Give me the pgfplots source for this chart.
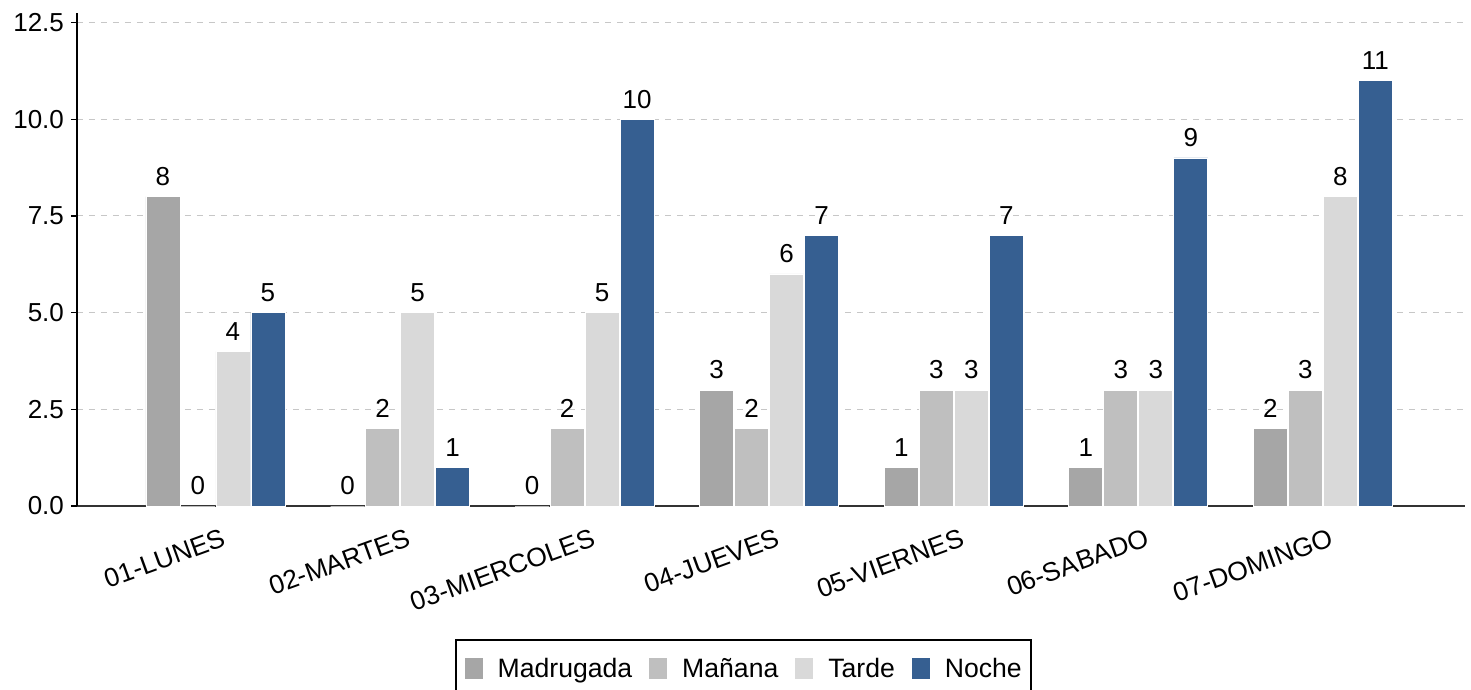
\documentclass[border=0pt]{standalone}
\usepackage{fontspec}
\setmainfont{Liberation Sans}
\usepackage{pgfplots}
\pgfplotsset{compat=1.18}
\definecolor{cMad}{HTML}{A6A6A6}
\definecolor{cMan}{HTML}{BFBFBF}
\definecolor{cTar}{HTML}{D9D9D9}
\definecolor{cNoc}{HTML}{365F91}
\begin{document}
\begin{tikzpicture}
\begin{axis}[
  name=ax,
  width=694pt, height=246.5pt, scale only axis,
  xmin=-0.75, xmax=6.77, ymin=0, ymax=12.75,
  axis lines*=left,
  x axis line style={draw=black!80, line width=0.9pt},
  y axis line style={draw=black, line width=0.9pt},
  ybar=0.5pt, bar width=17pt,
  xtick={0,1,2,3,4,5,6},
  xticklabels={01-LUNES,02-MARTES,03-MIERCOLES,04-JUEVES,05-VIERNES,06-SABADO,07-DOMINGO},
  x tick label style={rotate=20, anchor=north east, font=\fontsize{13.2}{15}\selectfont, xshift=3.5pt, yshift=-5pt},
  xtick style={draw=none},
  ytick={0,2.5,5,7.5,10,12.5},
  yticklabel style={/pgf/number format/fixed, /pgf/number format/fixed zerofill, /pgf/number format/precision=1, /pgf/number format/assume math mode=true, font=\fontsize{13}{15}\selectfont},
  ytick style={draw=black, line width=0.8pt},
  tick align=outside, major tick length=3pt,
  ymajorgrids, grid style={dashed, draw=black!22, line width=0.5pt},
  nodes near coords,
  nodes near coords style={font=\fontsize{13}{15}\selectfont, /pgf/number format/assume math mode=true, text=black, yshift=2pt},
  every axis plot/.append style={draw=white, line width=0.4pt},
  legend style={at={(0.480,-0.270)}, anchor=north, legend columns=4, draw=black, line width=1pt,
    font=\fontsize{13.3}{15}\selectfont, inner xsep=4.5pt, inner ysep=9pt,
    nodes={inner sep=0pt},
    /tikz/every odd column/.append style={column sep=7.5pt},
    /tikz/every even column/.append style={column sep=8.5pt}},
  legend image code/.code={\fill[#1, draw=none] (0pt,-5pt) rectangle (9pt,5.5pt);},
  clip=false,
]
\addplot[fill=cMad] coordinates {(0,8) (1,0) (2,0) (3,3) (4,1) (5,1) (6,2)};
\addplot[fill=cMan] coordinates {(0,0) (1,2) (2,2) (3,2) (4,3) (5,3) (6,3)};
\addplot[fill=cTar] coordinates {(0,4) (1,5) (2,5) (3,6) (4,3) (5,3) (6,8)};
\addplot[fill=cNoc] coordinates {(0,5) (1,1) (2,10) (3,7) (4,7) (5,9) (6,11)};
\legend{Madrugada, Mañana, Tarde, Noche}
\end{axis}
\pgfresetboundingbox
\path (ax.south west) ++(-38.5pt,-92pt) rectangle ++(735.5pt,345pt);
\end{tikzpicture}
\end{document}
